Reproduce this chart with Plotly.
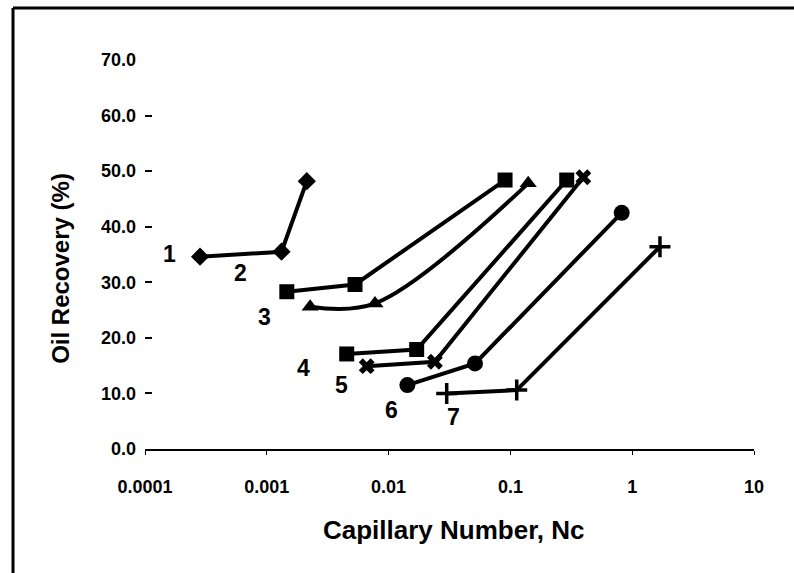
import math
import plotly.graph_objects as go

# ---- data (capillary number, oil recovery %) ----
s1_x = [0.000283, 0.00132, 0.00213]
s1_y = [34.6, 35.5, 48.2]
s2_x = [0.00146, 0.0053, 0.0904]
s2_y = [28.3, 29.6, 48.4]
s3_x = [0.00227, 0.00773, 0.140]
s3_y = [25.6, 26.2, 47.8]
s4_x = [0.00453, 0.0170, 0.290]
s4_y = [17.1, 17.9, 48.4]
s5_x = [0.00661, 0.0240, 0.397]
s5_y = [14.9, 15.7, 48.9]
s6_x = [0.01426, 0.0512, 0.820]
s6_y = [11.5, 15.4, 42.5]
s7_x = [0.030, 0.1127, 1.69]
s7_y = [10.0, 10.6, 36.4]

label_text = ["1", "2", "3", "4", "5", "6", "7"]
label_x = [0.000158, 0.000603, 0.000966, 0.00202, 0.00412, 0.0106, 0.0340]
label_y = [35.1, 31.6, 23.8, 14.5, 11.5, 7.0, 5.8]

x_tickvals = [0.0001, 0.001, 0.01, 0.1, 1, 10]
x_ticktext = ["0.0001", "0.001", "0.01", "0.1", "1", "10"]
y_tickvals = [0, 10, 20, 30, 40, 50, 60, 70]

FONT = "Liberation Sans"

series = [
    (s1_x, s1_y, "diamond", 14, "linear"),
    (s2_x, s2_y, "square", 15, "linear"),
    (s3_x, s3_y, "triangle-up", 15, "spline"),
    (s4_x, s4_y, "square", 15, "linear"),
    (s5_x, s5_y, "x", 14, "linear"),
    (s6_x, s6_y, "circle", 16, "linear"),
    (s7_x, s7_y, "cross-thin", 15, "linear"),
]

fig = go.Figure()
for xs, ys, sym, sz, shape in series:
    fig.add_trace(go.Scatter(
        x=xs, y=ys, mode="lines+markers",
        line=dict(color="black", width=4, shape=shape, smoothing=1.0),
        marker=dict(symbol=sym, size=sz, color="black",
                    line=dict(color="black", width=3.5 if sym == "cross-thin" else 0)),
        showlegend=False,
    ))

for t, lx, ly in zip(label_text, label_x, label_y):
    fig.add_annotation(x=math.log10(lx), y=ly, text="<b>%s</b>" % t, showarrow=False,
                       font=dict(family=FONT, size=23, color="black"),
                       xanchor="center", yanchor="middle")

fig.add_annotation(xref="paper", yref="paper", x=-0.14, y=0.465,
                   text="<b>Oil Recovery (%)</b>", textangle=-90, showarrow=False,
                   font=dict(family=FONT, size=24, color="black"),
                   xanchor="center", yanchor="middle")
fig.add_annotation(xref="paper", yref="paper", x=0.507, y=-0.208,
                   text="<b>Capillary Number, Nc</b>", showarrow=False,
                   font=dict(family=FONT, size=26, color="black"),
                   xanchor="center", yanchor="middle")

# outer frame (top and left edges)
fig.add_shape(type="line", xref="paper", yref="paper",
              x0=(13 - 145) / 609, x1=(794 - 145) / 609, y0=(449 - 8) / 389, y1=(449 - 8) / 389,
              line=dict(color="black", width=3))
fig.add_shape(type="line", xref="paper", yref="paper",
              x0=(13 - 145) / 609, x1=(13 - 145) / 609, y0=(449 - 8) / 389, y1=(449 - 573) / 389,
              line=dict(color="black", width=3))

fig.update_xaxes(type="log", range=[-4, 1], tickvals=x_tickvals, ticktext=x_ticktext,
                 showgrid=False, zeroline=False, showline=True, linecolor="black", linewidth=2,
                 ticks="outside", ticklen=4, tickwidth=1, tickcolor="black",
                 ticklabelstandoff=16,
                 tickfont=dict(family=FONT, size=18, color="black", weight="bold"))
fig.update_yaxes(range=[0, 70], tickvals=y_tickvals, tickformat=".1f",
                 showgrid=False, zeroline=False, showline=False,
                 ticks="inside", ticklen=7, tickwidth=1.5, tickcolor="black",
                 ticklabelstandoff=8,
                 tickfont=dict(family=FONT, size=18, color="black", weight="bold"))

fig.update_layout(width=794, height=573, margin=dict(l=145, r=40, t=60, b=124),
                  plot_bgcolor="white", paper_bgcolor="white")

fig.write_html("out.html")
